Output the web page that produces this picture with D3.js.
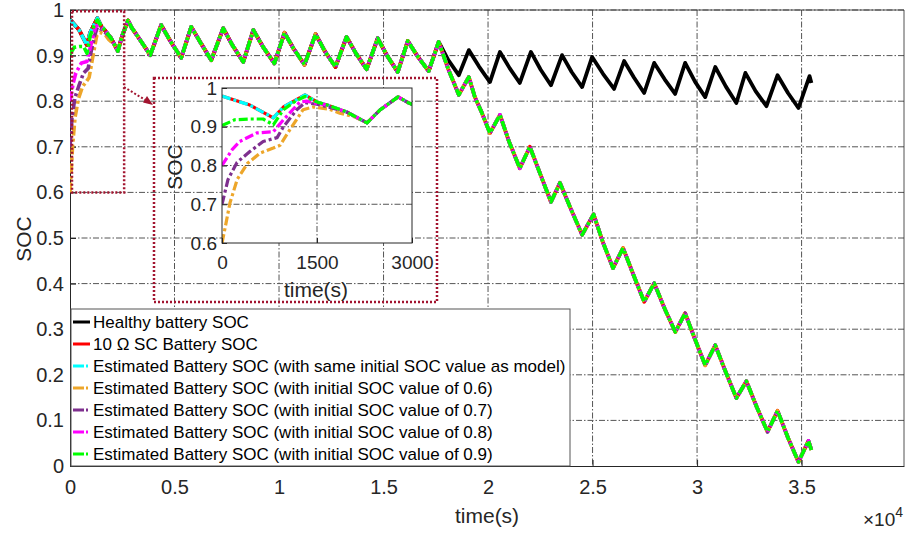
<!DOCTYPE html>
<html><head><meta charset="utf-8">
<script src="https://cdn.jsdelivr.net/npm/d3@7"></script>
<style>
body{margin:0;background:#fff}
text{font-family:"Liberation Sans",Arial,Helvetica,sans-serif}
</style>
</head><body>
<svg id="chart" width="907" height="534"></svg>
<script>
// ---------------- DATA ----------------
const healthyTime = [0,440,810,970,1310,1500,1660,1970,2290,2500,2780,2940,3300,3840,4360,4800,5320,5800,6250,6760,7330,7780,8290,8770,9250,9780,10260,10700,11220,11750,12200,12700,13230,13680,14190,14720,15170,15680,16160,16650,17160,17640,18100,18600,19080,19570,20090,20570,21040,21520,22050,22520,23010,23540,24000,24500,24980,25500,26030,26510,26980,27470,27950,28450,28950,29430,29900,30390,30870,31380,31880,32310,32800,33320,33850,34350,34850,35380,35470];
const healthySOC  = [0.979,0.956,0.923,0.951,0.982,0.964,0.956,0.938,0.910,0.944,0.977,0.962,0.938,0.901,0.967,0.932,0.895,0.963,0.928,0.890,0.960,0.922,0.886,0.956,0.918,0.883,0.950,0.915,0.880,0.947,0.909,0.875,0.941,0.905,0.870,0.938,0.900,0.864,0.932,0.897,0.866,0.930,0.890,0.857,0.912,0.876,0.842,0.908,0.872,0.840,0.908,0.869,0.835,0.901,0.864,0.831,0.897,0.860,0.827,0.888,0.852,0.818,0.884,0.848,0.816,0.884,0.843,0.809,0.875,0.832,0.796,0.862,0.822,0.789,0.857,0.818,0.785,0.855,0.840];

// short-circuit battery after the fault (before 17640 s it equals the healthy one)
const faultStart = 17640;
const faultyLateTime = [18100,18600,19080,19370,19700,20090,20570,21000,21520,22000,22500,23010,23440,23950,24500,25050,25500,25980,26460,26950,27470,27950,28450,28960,29430,29900,30390,30870,31380,31880,32360,32850,33370,33850,34350,34850,35330,35470];
const faultyLateSOC  = [0.870,0.814,0.853,0.809,0.775,0.730,0.770,0.712,0.653,0.700,0.640,0.579,0.621,0.565,0.507,0.552,0.490,0.434,0.478,0.420,0.360,0.401,0.345,0.294,0.335,0.278,0.221,0.265,0.205,0.149,0.186,0.130,0.075,0.121,0.062,0.009,0.055,0.035];

// estimator start-up transients (they then follow the SC battery)
const est06Time = [0,50,125,240,400,600,810,915,1075,1280,1440,1700,1860,2100];
const est06SOC  = [0.600,0.640,0.703,0.764,0.805,0.832,0.845,0.852,0.893,0.944,0.951,0.945,0.935,0.925];
const est06Join = 2290;
const est07Time = [0,95,237,440,650,870,970,1180,1310,1500,1700];
const est07SOC  = [0.700,0.764,0.808,0.836,0.862,0.872,0.900,0.944,0.962,0.958,0.950];
const est07Join = 1970;
const est08Time = [0,160,280,550,810,970,1230,1340,1500];
const est08SOC  = [0.800,0.841,0.862,0.884,0.887,0.918,0.964,0.966,0.960];
const est08Join = 1660;
const est09Time = [0,200,440,650,810,970,1150,1310];
const est09SOC  = [0.903,0.918,0.920,0.920,0.905,0.944,0.965,0.978];
const est09Join = 1500;

const legendLabels = [
  "Healthy battery SOC",
  "10 \u03A9 SC Battery SOC",
  "Estimated Battery SOC (with same initial SOC value as model)",
  "Estimated Battery SOC (with initial SOC value of 0.6)",
  "Estimated Battery SOC (with initial SOC value of 0.7)",
  "Estimated Battery SOC (with initial SOC value of 0.8)",
  "Estimated Battery SOC (with initial SOC value of 0.9)"
];
const xTicks = [0,5000,10000,15000,20000,25000,30000,35000];
const yTicks = [0,0.1,0.2,0.3,0.4,0.5,0.6,0.7,0.8,0.9,1];
const insetXTicks = [0,1500,3000];
const insetYTicks = [0.6,0.7,0.8,0.9,1];
const zoomRegionTime = [0,2590];
const zoomRegionSOC = [0.6,0.997];

// ---------------- build series ----------------
const zip = (t,v)=>t.map((d,i)=>[d,v[i]]);
const healthy = zip(healthyTime, healthySOC);
const faulty = healthy.filter(d=>d[0]<=faultStart).concat(zip(faultyLateTime, faultyLateSOC));
const tail = t0 => faulty.filter(d=>d[0]>=t0);
const DD = "10,3,3,3";
const series = [
  {name:legendLabels[0], data:healthy, color:"#000000", dash:null, w:3.8},
  {name:legendLabels[1], data:faulty, color:"#ff0000", dash:null, w:3.8},
  {name:legendLabels[2], data:faulty, color:"#00ffff", dash:DD, w:3.6},
  {name:legendLabels[3], data:zip(est06Time,est06SOC).concat(tail(est06Join)), color:"#EDA62A", dash:DD, w:3.6},
  {name:legendLabels[4], data:zip(est07Time,est07SOC).concat(tail(est07Join)), color:"#7E2F8E", dash:DD, w:3.6},
  {name:legendLabels[5], data:zip(est08Time,est08SOC).concat(tail(est08Join)), color:"#ff00ff", dash:DD, w:3.6},
  {name:legendLabels[6], data:zip(est09Time,est09SOC).concat(tail(est09Join)), color:"#00ff00", dash:DD, w:3.6}
];

// ---------------- layout ----------------
const svg = d3.select("#chart");
const M = {l:70, r:904, t:10, b:466};
const x = d3.scaleLinear().domain([0,39900]).range([M.l, M.r]);
const y = d3.scaleLinear().domain([0,1]).range([M.b, M.t]);
const axisCol = "#262626", gridCol = "#555";
const darkRed = "#A2142F";

svg.append("defs").append("clipPath").attr("id","mainClip")
  .append("rect").attr("x",M.l).attr("y",M.t).attr("width",M.r-M.l).attr("height",M.b-M.t);

// grid
const grid = svg.append("g").attr("stroke",gridCol).attr("stroke-width",1).attr("stroke-dasharray","6,2,1.5,2").attr("fill","none");
xTicks.filter(d=>d>0).forEach(d=>grid.append("line").attr("x1",x(d)).attr("x2",x(d)).attr("y1",M.t).attr("y2",M.b));
yTicks.filter(d=>d>0).forEach(d=>grid.append("line").attr("x1",M.l).attr("x2",M.r).attr("y1",y(d)).attr("y2",y(d)));

// axes
const xAxis = d3.axisBottom(x).tickValues(xTicks).tickFormat(d=>d===0?"0":d3.format("")(d/1e4)).tickSizeInner(-6).tickSizeOuter(0).tickPadding(14);
const yAxis = d3.axisLeft(y).tickValues(yTicks).tickFormat(d=>d===0?"0":(d===1?"1":d3.format(".1f")(d))).tickSizeInner(-6).tickSizeOuter(0).tickPadding(6);
const gx = svg.append("g").attr("transform",`translate(0,${M.b})`).call(xAxis);
const gy = svg.append("g").attr("transform",`translate(${M.l},0)`).call(yAxis);
[gx,gy].forEach(g=>{
  g.selectAll("path").attr("stroke",axisCol).attr("stroke-width",1);
  g.selectAll("line").attr("stroke",axisCol);
  g.selectAll("text").attr("fill",axisCol).style("font-size","20px");
});
// box top/right
svg.append("line").attr("x1",M.l).attr("x2",M.r).attr("y1",M.t).attr("y2",M.t).attr("stroke",axisCol).attr("stroke-width",0.8);
svg.append("line").attr("x1",M.r).attr("x2",M.r).attr("y1",M.t).attr("y2",M.b).attr("stroke",axisCol).attr("stroke-width",0.8);

// axis labels
svg.append("text").attr("x",x(20000)-1).attr("y",523).attr("text-anchor","middle").attr("fill",axisCol).style("font-size","21px").text("time(s)");
svg.append("text").attr("transform","translate(31,239) rotate(-90)").attr("text-anchor","middle").attr("fill",axisCol).style("font-size","21px").text("SOC");
const mult = svg.append("text").attr("x",903).attr("y",526).attr("text-anchor","end").attr("fill",axisCol).style("font-size","19px");
mult.append("tspan").text("\u00D710");
mult.append("tspan").attr("dy",-9).style("font-size","14px").text("4");

// curves
const line = d3.line().x(d=>x(d[0])).y(d=>y(d[1]));
const gCurves = svg.append("g").attr("clip-path","url(#mainClip)");
series.forEach(s=>{
  gCurves.append("path").attr("d",line(s.data)).attr("fill","none").attr("stroke",s.color)
    .attr("stroke-width",s.w).attr("stroke-dasharray",s.dash).attr("stroke-linejoin","round");
});

// zoom region rectangle + arrow
const dotted = {stroke:darkRed,"stroke-width":2.5,"stroke-dasharray":"2,2",fill:"none"};
const zr = svg.append("rect").attr("x",x(zoomRegionTime[0])+2).attr("y",y(zoomRegionSOC[1]))
  .attr("width",x(zoomRegionTime[1])-x(zoomRegionTime[0])-2).attr("height",y(zoomRegionSOC[0])-y(zoomRegionSOC[1]));
Object.entries(dotted).forEach(([k,v])=>zr.attr(k,v));
const ir = svg.append("rect").attr("x",154).attr("y",78).attr("width",283).attr("height",224);
Object.entries(dotted).forEach(([k,v])=>ir.attr(k,v));
svg.append("line").attr("x1",124).attr("y1",87).attr("x2",147).attr("y2",101)
  .attr("stroke",darkRed).attr("stroke-width",2).attr("stroke-dasharray","2,2");
svg.append("path").attr("d","M153,105 L143,102.5 L147,96 Z").attr("fill",darkRed);

// ---------------- inset ----------------
const I = {l:222, r:412, t:88, b:243};
const ix = d3.scaleLinear().domain([0,3000]).range([I.l,I.r]);
const iy = d3.scaleLinear().domain([0.6,1]).range([I.b,I.t]);
svg.select("defs").append("clipPath").attr("id","insetClip")
  .append("rect").attr("x",I.l).attr("y",I.t).attr("width",I.r-I.l).attr("height",I.b-I.t);
svg.append("rect").attr("x",I.l).attr("y",I.t).attr("width",I.r-I.l).attr("height",I.b-I.t).attr("fill","#fff");
const ig = svg.append("g").attr("stroke",gridCol).attr("stroke-width",1).attr("stroke-dasharray","6,2,1.5,2");
ig.append("line").attr("x1",ix(1500)).attr("x2",ix(1500)).attr("y1",I.t).attr("y2",I.b);
insetYTicks.filter(d=>d>0.6&&d<1).forEach(d=>ig.append("line").attr("x1",I.l).attr("x2",I.r).attr("y1",iy(d)).attr("y2",iy(d)));
const iline = d3.line().x(d=>ix(d[0])).y(d=>iy(d[1]));
const gi = svg.append("g").attr("clip-path","url(#insetClip)");
series.slice(1).forEach(s=>{
  gi.append("path").attr("d",iline(s.data.filter(d=>d[0]<=3300))).attr("fill","none").attr("stroke",s.color)
    .attr("stroke-width",3.2).attr("stroke-dasharray",s.dash?"9,3,3,3":null).attr("stroke-linejoin","round");
});
svg.append("rect").attr("x",I.l).attr("y",I.t).attr("width",I.r-I.l).attr("height",I.b-I.t)
  .attr("fill","none").attr("stroke",axisCol).attr("stroke-width",1);
const ixa = svg.append("g").attr("transform",`translate(0,${I.b})`)
  .call(d3.axisBottom(ix).tickValues(insetXTicks).tickSizeInner(-5).tickSizeOuter(0).tickPadding(13).tickFormat(d3.format("d")));
const iya = svg.append("g").attr("transform",`translate(${I.l},0)`)
  .call(d3.axisLeft(iy).tickValues(insetYTicks).tickSizeInner(-5).tickSizeOuter(0).tickPadding(5).tickFormat(d=>d===1?"1":d3.format(".1f")(d)));
[ixa,iya].forEach(g=>{
  g.selectAll("path").remove();
  g.selectAll("line").attr("stroke",axisCol);
  g.selectAll("text").attr("fill",axisCol).style("font-size","19px");
});
svg.append("text").attr("x",316).attr("y",297).attr("text-anchor","middle").attr("fill",axisCol).style("font-size","21px").text("time(s)");
svg.append("text").attr("transform","translate(182,167) rotate(-90)").attr("text-anchor","middle").attr("fill",axisCol).style("font-size","21px").text("SOC");

// ---------------- legend ----------------
const L = {x:71, y:309, w:499, h:157, row:22};
const lg = svg.append("g");
lg.append("rect").attr("x",L.x).attr("y",L.y).attr("width",L.w).attr("height",L.h).attr("fill","#fff").attr("stroke","#555").attr("stroke-width",1);
series.forEach((s,i)=>{
  const cy = L.y + 13 + i*L.row;
  lg.append("line").attr("x1",L.x+2).attr("x2",L.x+19).attr("y1",cy).attr("y2",cy)
    .attr("stroke",s.color).attr("stroke-width",3).attr("stroke-dasharray",s.dash?"11,2,2,2":null);
  lg.append("text").attr("x",L.x+22).attr("y",cy+6).attr("fill","#000").style("font-size","17px").text(s.name);
});
</script>
</body></html>
